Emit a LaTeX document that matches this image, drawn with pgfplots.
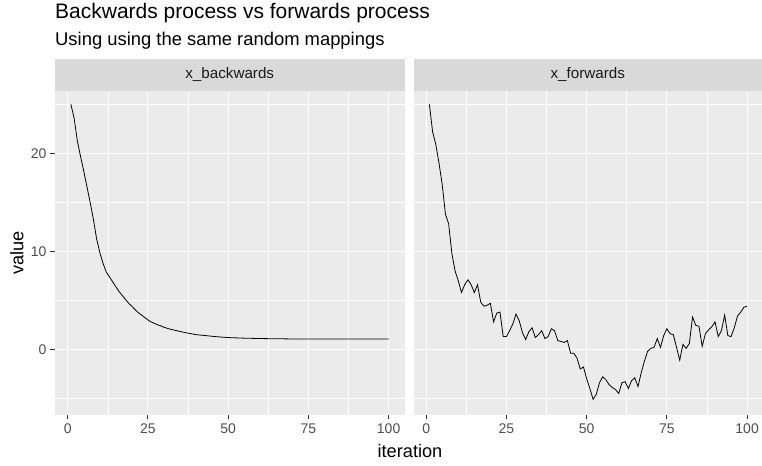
\documentclass[border=0pt]{standalone}
\usepackage{pgfplots}
\pgfplotsset{compat=1.18}
\usepackage{pgfplotstable}
\usepackage{fontspec}
\setmainfont{Liberation Sans}
\definecolor{panelbg}{HTML}{EBEBEB}
\definecolor{stripbg}{HTML}{D9D9D9}
\definecolor{ticklab}{HTML}{4D4D4D}
\definecolor{tickmk}{HTML}{333333}
\definecolor{striptxt}{HTML}{1A1A1A}

\pgfplotstableread{
i v
1 25.0
2 23.6
3 21.3
4 19.7
5 18.2
6 16.6
7 15.0
8 13.3
9 11.3
10 9.9
11 8.8
12 7.9
13 7.4
14 6.9
15 6.4
16 5.9
17 5.5
18 5.1
19 4.7
20 4.4
21 4.05
22 3.75
23 3.5
24 3.25
25 3.0
26 2.8
27 2.65
28 2.5
29 2.4
30 2.25
32 2.05
34 1.9
36 1.75
38 1.62
40 1.5
43 1.4
46 1.3
50 1.2
55 1.14
60 1.1
70 1.06
80 1.05
90 1.05
100 1.05
}\backtab

\pgfplotstableread{
i v
1 25.0
2 22.2
3 20.9
4 19.0
5 16.8
6 13.8
7 12.8
8 9.8
9 8.0
10 7.0
11 5.8
12 6.6
13 7.1
14 6.6
15 5.8
16 6.6
17 4.8
18 4.4
19 4.5
20 4.7
21 2.8
22 3.7
23 3.8
24 1.3
25 1.3
26 1.9
27 2.6
28 3.6
29 2.9
30 1.7
31 1.0
32 1.8
33 2.2
34 1.2
35 1.5
36 1.9
37 1.1
38 1.3
39 2.1
40 1.9
41 0.9
42 0.8
43 0.7
44 0.9
45 -0.4
46 -0.4
47 -0.9
48 -2.0
49 -1.8
50 -3.0
51 -4.0
52 -5.1
53 -4.6
54 -3.4
55 -2.8
56 -3.1
57 -3.6
58 -3.9
59 -4.1
60 -4.5
61 -3.4
62 -3.3
63 -4.0
64 -3.2
65 -2.9
66 -3.8
67 -2.4
68 -1.2
69 -0.2
70 0.1
71 0.2
72 1.1
73 0.2
74 1.4
75 2.1
76 1.6
77 1.5
78 0.2
79 -1.1
80 0.5
81 0.1
82 0.6
83 3.3
84 2.45
85 2.35
86 0.3
87 1.6
88 2.0
89 2.3
90 2.8
91 1.3
92 1.9
93 3.5
94 1.4
95 1.3
96 2.2
97 3.4
98 3.8
99 4.3
100 4.4
}\forwtab

\pgfplotsset{
  facet/.style={
    scale only axis,
    width=349.5bp, height=324.3bp,
    anchor=south west,
    xmin=-3.95, xmax=104.95,
    ymin=-6.70, ymax=26.39,
    axis background/.style={fill=panelbg},
    axis line style={draw=none},
    xtick={0,25,50,75,100},
    ytick={0,10,20},
    minor xtick={12.5,37.5,62.5,87.5},
    minor ytick={-5,5,15,25},
    grid=both,
    major grid style={white, line width=1.1bp},
    minor grid style={white, line width=0.55bp},
    tick align=outside,
    major tick length=4.5bp,
    minor tick length=0bp,
    major tick style={color=tickmk, line width=1bp},
    minor tick style={draw=none},
    xtick pos=bottom, ytick pos=left,
    /pgf/number format/assume math mode=true,
    tick label style={font=\fontsize{14bp}{16bp}\selectfont, text=ticklab},
    xticklabel style={yshift=-1bp},
    yticklabel style={xshift=-0.5bp},
  }
}

\begin{document}
\begin{tikzpicture}
\useasboundingbox (0,0) rectangle (762bp,466bp);

% titles
\node[anchor=base west, inner sep=0] at (55bp,447bp) {\fontsize{21bp}{25bp}\selectfont Backwards process vs forwards process};
\node[anchor=base west, inner sep=0] at (55bp,420bp) {\fontsize{18.4bp}{22bp}\selectfont Using using the same random mappings};

% strips
\fill[stripbg] (55bp,375.3bp) rectangle (404.5bp,406.7bp);
\fill[stripbg] (413.5bp,375.3bp) rectangle (762bp,406.7bp);
\node[text=striptxt, inner sep=0] at (229.75bp,391bp) {\fontsize{15.2bp}{18bp}\selectfont x\_backwards};
\node[text=striptxt, inner sep=0] at (587.75bp,391bp) {\fontsize{15.2bp}{18bp}\selectfont x\_forwards};

\begin{axis}[facet, at={(55bp,51bp)}]
\addplot[black, line width=0.8bp, no markers] table[x=i, y=v] {\backtab};
\end{axis}

\begin{axis}[facet, at={(413.5bp,51bp)}, yticklabels={}, ytick style={draw=none}]
\addplot[black, line width=0.8bp, no markers] table[x=i, y=v] {\forwtab};
\end{axis}

% axis titles
\node[anchor=base, inner sep=0] at (410bp,9bp) {\fontsize{18.2bp}{22bp}\selectfont iteration};
\node[anchor=base, inner sep=0, rotate=90] at (23.3bp,213bp) {\fontsize{18.2bp}{22bp}\selectfont value};
\end{tikzpicture}
\end{document}
